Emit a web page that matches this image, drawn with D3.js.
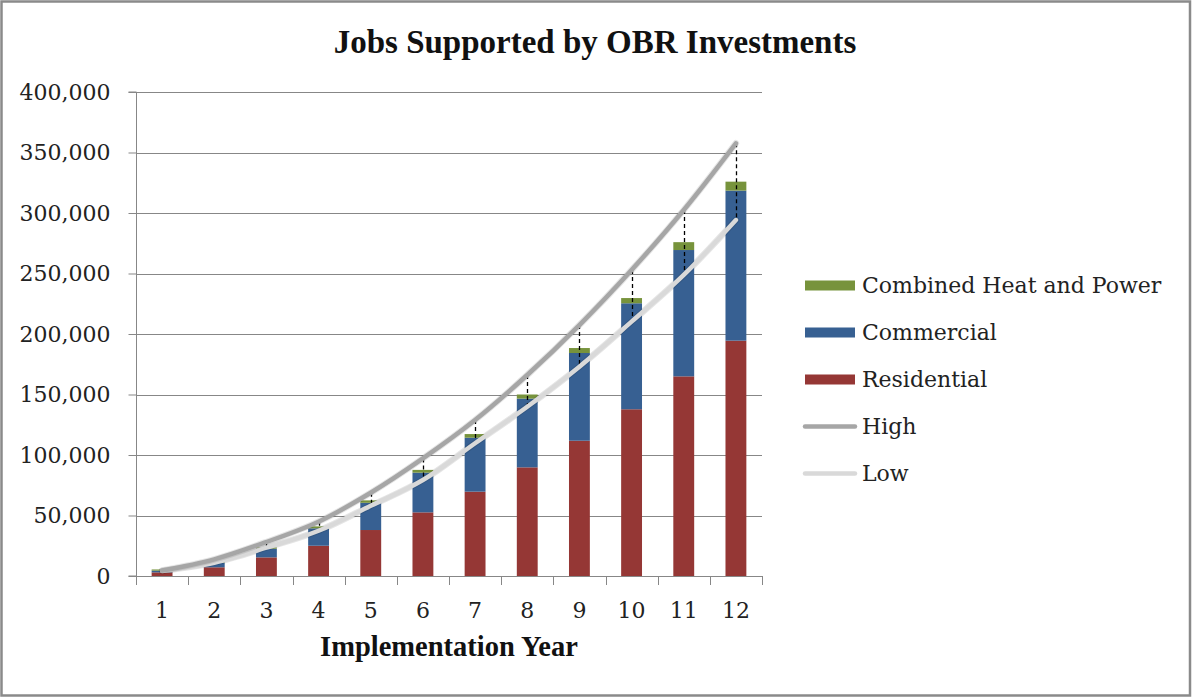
<!DOCTYPE html>
<html>
<head>
<meta charset="utf-8">
<script src="https://cdn.jsdelivr.net/npm/d3@7"></script>
<style>
  html, body { margin: 0; padding: 0; background: #fff; }
  svg { display: block; }
</style>
</head>
<body>
<svg id="chart" width="1193" height="698"></svg>
<script>
// Implementation years on the x axis
const years = [1, 2, 3, 4, 5, 6, 7, 8, 9, 10, 11, 12];

// Stacked job counts by sector (jobs)
const residential = [3000, 7200, 15400, 25000, 38000, 52600, 69700, 89800, 111800, 137800, 165000, 194500];
const commercial  = [1400, 3800, 7200, 14400, 22500, 32800, 44600, 56800, 72500, 87600, 104400, 124000];
const chp         = [1000, 600, 1000, 1600, 2000, 2300, 3000, 3400, 4100, 4300, 6500, 7400];

// High / low scenario totals
const high = [4500, 13800, 28100, 44900, 68800, 97200, 128900, 166100, 207400, 252900, 302500, 357600];
const low  = [4200, 11000, 23400, 37400, 58000, 79300, 109700, 139900, 173000, 210200, 248800, 294200];

const yTicks = [0, 50000, 100000, 150000, 200000, 250000, 300000, 350000, 400000];

const seriesNames = ["Residential", "Commercial", "Combined Heat and Power"];
const seriesColors = ["#953735", "#376092", "#77933c"];
const highColor = "#a6a6a6";
const lowColor = "#d9d9d9";

const svg = d3.select("#chart");
const plot = { left: 136, right: 762, top: 92, bottom: 576 };

const bodyFont = "'DejaVu Serif', serif";
const titleFont = "'Liberation Serif', serif";

// outer frame
svg.append("rect")
  .attr("x", 1.5).attr("y", 1.5)
  .attr("width", 1188.5).attr("height", 694)
  .attr("fill", "#fff")
  .attr("stroke", "#8a8a8a")
  .attr("stroke-width", 2.5);

const x = d3.scaleBand()
  .domain(years)
  .range([plot.left, plot.right])
  .paddingInner(0.6)
  .paddingOuter(0.3);

const y = d3.scaleLinear()
  .domain([0, 400000])
  .range([plot.bottom, plot.top]);

// horizontal gridlines
svg.append("g")
  .selectAll("line")
  .data(yTicks.filter(d => d > 0))
  .join("line")
  .attr("x1", plot.left).attr("x2", plot.right)
  .attr("y1", d => Math.round(y(d)) + 0.5)
  .attr("y2", d => Math.round(y(d)) + 0.5)
  .attr("stroke", "#878787")
  .attr("stroke-width", 1);

// stacked bars
const rows = years.map((yr, i) => ({
  year: yr,
  "Residential": residential[i],
  "Commercial": commercial[i],
  "Combined Heat and Power": chp[i]
}));
const stack = d3.stack().keys(seriesNames)(rows);

svg.append("g")
  .selectAll("g")
  .data(stack)
  .join("g")
  .attr("fill", (d, i) => seriesColors[i])
  .selectAll("rect")
  .data(d => d)
  .join("rect")
  .attr("x", d => x(d.data.year))
  .attr("width", x.bandwidth())
  .attr("y", d => y(d[1]))
  .attr("height", d => y(d[0]) - y(d[1]));

// high-low connectors
const cx = d => x(d) + x.bandwidth() / 2;
svg.append("g")
  .selectAll("line")
  .data(years)
  .join("line")
  .attr("x1", d => Math.round(cx(d)) + 0.5)
  .attr("x2", d => Math.round(cx(d)) + 0.5)
  .attr("y1", (d, i) => y(high[i]))
  .attr("y2", (d, i) => y(low[i]))
  .attr("stroke", "#000")
  .attr("stroke-width", 1.3)
  .attr("stroke-dasharray", "4,3");

// scenario lines
const line = d3.line()
  .x((d, i) => cx(years[i]))
  .y(d => y(d))
  .curve(d3.curveCatmullRom.alpha(0.5));

[[low, lowColor], [high, highColor]].forEach(([vals, col]) => {
  svg.append("path")
    .attr("d", line(vals))
    .attr("fill", "none")
    .attr("stroke", "rgba(0,0,0,0.10)")
    .attr("stroke-width", 6.5)
    .attr("stroke-linecap", "round");
  svg.append("path")
    .attr("d", line(vals))
    .attr("fill", "none")
    .attr("stroke", col)
    .attr("stroke-width", 4.5)
    .attr("stroke-linecap", "round");
});

// y axis
const yAxis = svg.append("g")
  .attr("transform", `translate(${plot.left + 0.5},0)`)
  .call(d3.axisLeft(y)
    .tickValues(yTicks)
    .tickSize(8)
    .tickPadding(18)
    .tickFormat(d3.format(",")));
yAxis.select(".domain").attr("stroke", "#878787").attr("d", `M-8,${plot.bottom}H0V${plot.top}H-8`);
yAxis.selectAll(".tick line").attr("stroke", "#878787");
yAxis.selectAll(".tick text")
  .attr("font-family", bodyFont)
  .attr("font-size", 22)
  .attr("fill", "#222");

// x axis: ticks on category boundaries
const xAxisG = svg.append("g");
xAxisG.append("line")
  .attr("x1", plot.left).attr("x2", plot.right)
  .attr("y1", plot.bottom + 0.5).attr("y2", plot.bottom + 0.5)
  .attr("stroke", "#878787");
const boundaries = years.map(d => x(d) - x.step() * x.paddingInner() / 2).concat([plot.right]);
xAxisG.selectAll("line.tk")
  .data(boundaries)
  .join("line")
  .attr("class", "tk")
  .attr("x1", d => Math.round(d) + 0.5).attr("x2", d => Math.round(d) + 0.5)
  .attr("y1", plot.bottom).attr("y2", plot.bottom + 9)
  .attr("stroke", "#878787");
xAxisG.selectAll("text")
  .data(years)
  .join("text")
  .attr("x", d => cx(d))
  .attr("y", 618)
  .attr("text-anchor", "middle")
  .attr("font-family", bodyFont)
  .attr("font-size", 22)
  .attr("fill", "#222")
  .text(d => d);

// titles
svg.append("text")
  .attr("x", 595).attr("y", 53)
  .attr("text-anchor", "middle")
  .attr("font-family", titleFont)
  .attr("font-weight", "bold")
  .attr("font-size", 33)
  .attr("fill", "#111")
  .text("Jobs Supported by OBR Investments");

svg.append("text")
  .attr("x", (plot.left + plot.right) / 2).attr("y", 656)
  .attr("text-anchor", "middle")
  .attr("font-family", titleFont)
  .attr("font-weight", "bold")
  .attr("font-size", 28.5)
  .attr("fill", "#111")
  .text("Implementation Year");

// legend
const legendItems = [
  { name: "Combined Heat and Power", color: seriesColors[2], type: "box" },
  { name: "Commercial", color: seriesColors[1], type: "box" },
  { name: "Residential", color: seriesColors[0], type: "box" },
  { name: "High", color: highColor, type: "line" },
  { name: "Low", color: lowColor, type: "line" }
];
const lg = svg.append("g");
const item = lg.selectAll("g")
  .data(legendItems)
  .join("g")
  .attr("transform", (d, i) => `translate(805,${285.5 + i * 47})`);
item.filter(d => d.type === "box")
  .append("rect")
  .attr("x", 0).attr("y", -5)
  .attr("width", 50).attr("height", 10)
  .attr("fill", d => d.color);
item.filter(d => d.type === "line")
  .append("line")
  .attr("x1", 0).attr("x2", 50)
  .attr("y1", 0).attr("y2", 0)
  .attr("stroke", d => d.color)
  .attr("stroke-width", 4.5)
  .attr("stroke-linecap", "round");
item.append("text")
  .attr("x", 57)
  .attr("y", 0)
  .attr("dy", "0.36em")
  .attr("font-family", bodyFont)
  .attr("font-size", 22)
  .attr("fill", "#222")
  .text(d => d.name);
</script>
</body>
</html>
